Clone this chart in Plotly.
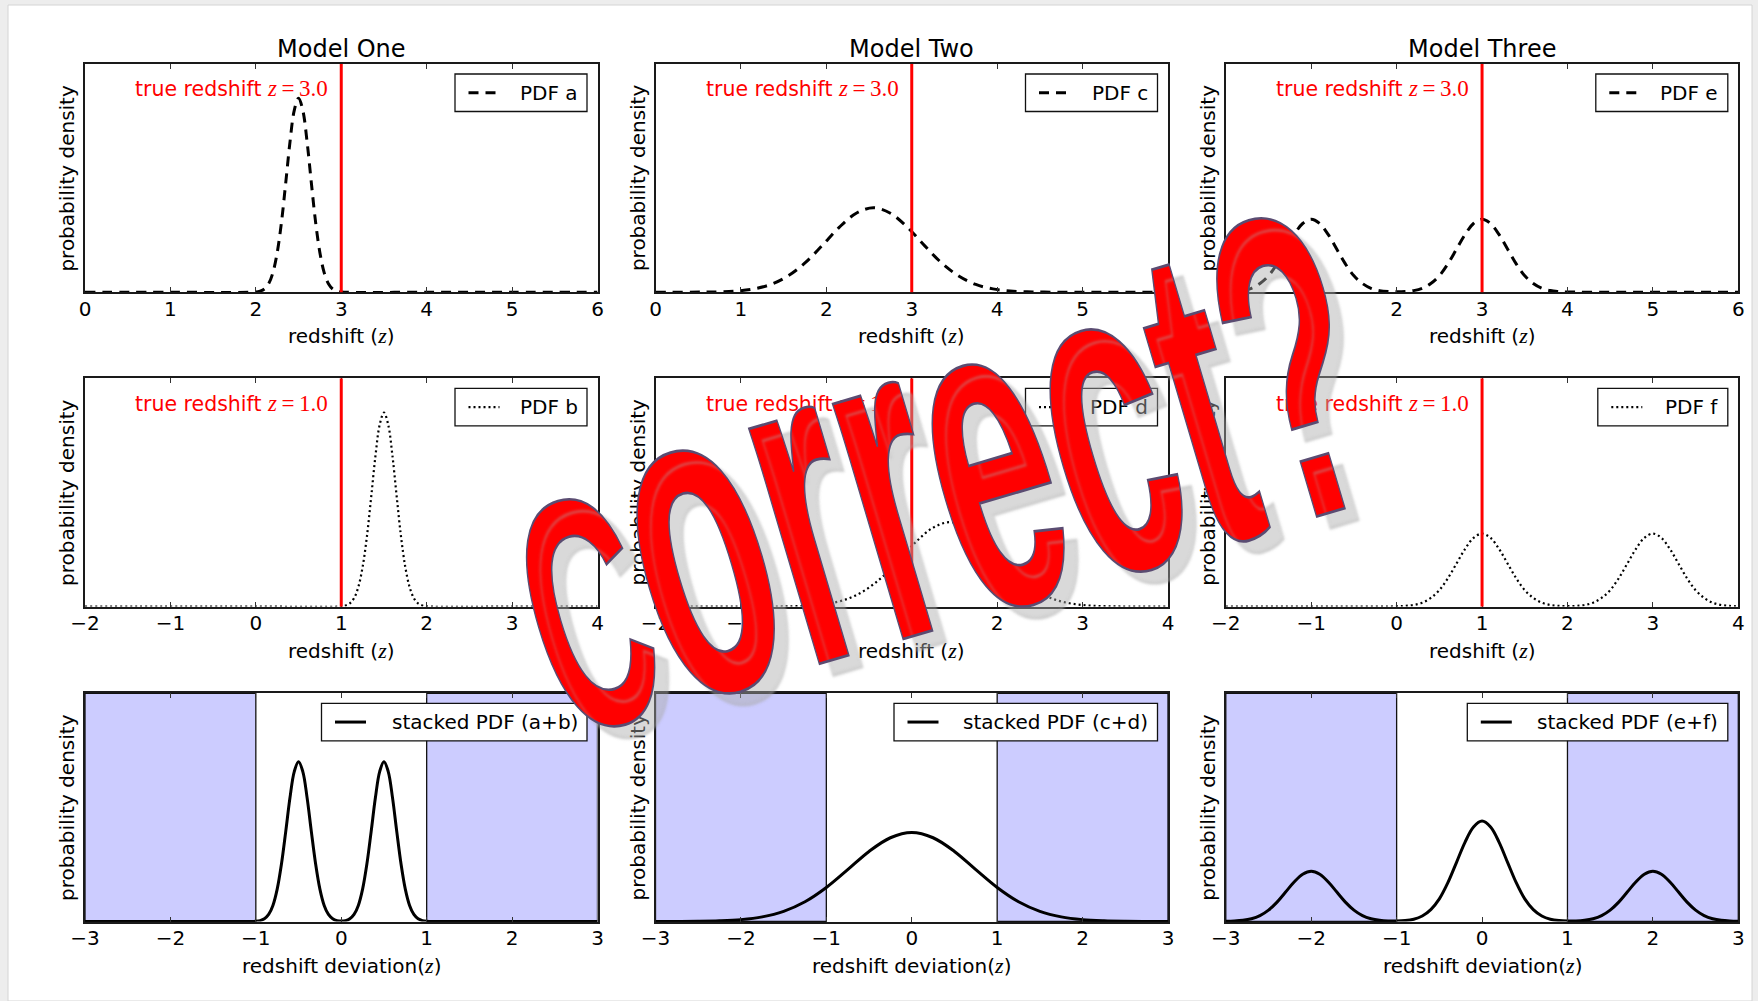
import plotly.graph_objects as go

W, H = 1758, 1001

# ------------------------------------------------------------------ data
model_titles = ["Model One", "Model Two", "Model Three"]
true_z_top = 3.0
true_z_mid = 1.0

top_ticks = [0, 1, 2, 3, 4, 5, 6]
mid_ticks = [-2, -1, 0, 1, 2, 3, 4]
bot_ticks = [-3, -2, -1, 0, 1, 2, 3]

pdf_a_x = [0.0, 1.0, 2.0, 2.05, 2.1, 2.15, 2.2, 2.25, 2.3, 2.35, 2.4, 2.45, 2.5,
           2.55, 2.6, 2.65, 2.7, 2.75, 2.8, 2.85, 2.9, 2.95, 3.0, 4.0, 5.0, 6.0]
pdf_a_y = [0, 0, 0.001, 0.005, 0.014, 0.037, 0.086, 0.173, 0.306, 0.479, 0.659, 0.797, 0.85,
           0.797, 0.659, 0.479, 0.306, 0.173, 0.086, 0.037, 0.014, 0.005, 0.001, 0, 0, 0]

pdf_b_x = [-2.0, 0.0, 1.0, 1.05, 1.1, 1.15, 1.2, 1.25, 1.3, 1.35, 1.4, 1.45, 1.5,
           1.55, 1.6, 1.65, 1.7, 1.75, 1.8, 1.85, 1.9, 1.95, 2.0, 3.0, 4.0]
pdf_b_y = [0, 0, 0.001, 0.005, 0.014, 0.037, 0.086, 0.173, 0.306, 0.479, 0.659, 0.797, 0.85,
           0.797, 0.659, 0.479, 0.306, 0.173, 0.086, 0.037, 0.014, 0.005, 0.001, 0, 0]

pdf_c_x = [0.0, 0.55, 0.75, 0.95, 1.15, 1.35, 1.55, 1.75, 1.95, 2.15, 2.35, 2.55,
           2.75, 2.95, 3.15, 3.35, 3.55, 3.75, 3.95, 4.15, 4.35, 4.55, 5.0, 6.0]
pdf_c_y = [0, 0.0005, 0.0017, 0.0054, 0.0145, 0.034, 0.071, 0.128, 0.204, 0.284, 0.346, 0.37,
           0.346, 0.284, 0.204, 0.128, 0.071, 0.034, 0.0145, 0.0054, 0.0017, 0.0005, 0, 0]

pdf_d_x = [-2.0, -0.55, -0.35, -0.15, 0.05, 0.25, 0.45, 0.65, 0.85, 1.05, 1.25, 1.45,
           1.65, 1.85, 2.05, 2.25, 2.45, 2.65, 2.85, 3.05, 3.25, 3.45, 4.0]
pdf_d_y = [0, 0.0005, 0.0017, 0.0054, 0.0145, 0.034, 0.071, 0.128, 0.204, 0.284, 0.346, 0.37,
           0.346, 0.284, 0.204, 0.128, 0.071, 0.034, 0.0145, 0.0054, 0.0017, 0.0005, 0]

pdf_e_x = [0.0, 0.1, 0.2, 0.3, 0.4, 0.5, 0.6, 0.7, 0.8, 0.9, 1.0, 1.1, 1.2, 1.3, 1.4,
           1.5, 1.6, 1.7, 1.8, 1.9, 2.0, 2.1, 2.2, 2.3, 2.4, 2.5, 2.6, 2.7, 2.8, 2.9,
           3.0, 3.1, 3.2, 3.3, 3.4, 3.5, 3.6, 3.7, 3.8, 3.9, 4.0, 4.5, 5.0, 6.0]
pdf_e_y = [0.001, 0.003, 0.007, 0.017, 0.038, 0.072, 0.124, 0.188, 0.252, 0.301, 0.32,
           0.301, 0.252, 0.188, 0.124, 0.072, 0.038, 0.017, 0.007, 0.003, 0.002,
           0.003, 0.007, 0.017, 0.038, 0.072, 0.124, 0.188, 0.252, 0.301, 0.32,
           0.301, 0.252, 0.188, 0.124, 0.072, 0.038, 0.017, 0.007, 0.003, 0.001, 0, 0, 0]

pdf_f_x = [-2.0, -1.0, -0.5, 0.0, 0.1, 0.2, 0.3, 0.4, 0.5, 0.6, 0.7, 0.8, 0.9, 1.0, 1.1,
           1.2, 1.3, 1.4, 1.5, 1.6, 1.7, 1.8, 1.9, 2.0, 2.1, 2.2, 2.3, 2.4, 2.5, 2.6,
           2.7, 2.8, 2.9, 3.0, 3.1, 3.2, 3.3, 3.4, 3.5, 3.6, 3.7, 3.8, 3.9, 4.0]
pdf_f_y = [0, 0, 0, 0.001, 0.003, 0.007, 0.017, 0.038, 0.072, 0.124, 0.188, 0.252, 0.301, 0.32,
           0.301, 0.252, 0.188, 0.124, 0.072, 0.038, 0.017, 0.007, 0.003, 0.002,
           0.003, 0.007, 0.017, 0.038, 0.072, 0.124, 0.188, 0.252, 0.301, 0.32,
           0.301, 0.252, 0.188, 0.124, 0.072, 0.038, 0.017, 0.007, 0.003, 0.001]

stack_ab_x = [-3.0, -2.0, -1.1, -1.0, -0.95, -0.9, -0.85, -0.8, -0.75, -0.7, -0.65, -0.6,
              -0.55, -0.5, -0.45, -0.4, -0.35, -0.3, -0.25, -0.2, -0.15, -0.1, -0.05, 0.0,
              0.05, 0.1, 0.15, 0.2, 0.25, 0.3, 0.35, 0.4, 0.45, 0.5, 0.55, 0.6, 0.65, 0.7,
              0.75, 0.8, 0.85, 0.9, 0.95, 1.0, 1.1, 2.0, 3.0]
stack_ab_y = [0, 0, 0, 0.001, 0.004, 0.012, 0.031, 0.0705, 0.142, 0.252, 0.394, 0.543,
              0.657, 0.70, 0.657, 0.543, 0.394, 0.252, 0.142, 0.0705, 0.031, 0.012, 0.004, 0.002,
              0.004, 0.012, 0.031, 0.0705, 0.142, 0.252, 0.394, 0.543, 0.657, 0.70, 0.657, 0.543,
              0.394, 0.252, 0.142, 0.0705, 0.031, 0.012, 0.004, 0.001, 0, 0, 0]

stack_cd_x = [-3.0, -2.75, -2.5, -2.25, -2.0, -1.75, -1.5, -1.25, -1.0, -0.75, -0.5, -0.25, 0.0,
              0.25, 0.5, 0.75, 1.0, 1.25, 1.5, 1.75, 2.0, 2.25, 2.5, 2.75, 3.0]
stack_cd_y = [0.0001, 0.0003, 0.0009, 0.003, 0.0082, 0.0203, 0.0445, 0.0864, 0.149, 0.227, 0.307, 0.367, 0.39,
              0.367, 0.307, 0.227, 0.149, 0.0864, 0.0445, 0.0203, 0.0082, 0.003, 0.0009, 0.0003, 0.0001]

stack_ef_x = [-3.0, -2.9, -2.8, -2.7, -2.6, -2.5, -2.4, -2.3, -2.2, -2.1, -2.0, -1.9, -1.8,
              -1.7, -1.6, -1.5, -1.4, -1.3, -1.2, -1.1, -1.0, -0.9, -0.8, -0.7, -0.6, -0.5,
              -0.4, -0.3, -0.2, -0.1, 0.0, 0.1, 0.2, 0.3, 0.4, 0.5, 0.6, 0.7, 0.8, 0.9, 1.0,
              1.1, 1.2, 1.3, 1.4, 1.5, 1.6, 1.7, 1.8, 1.9, 2.0, 2.1, 2.2, 2.3, 2.4, 2.5, 2.6,
              2.7, 2.8, 2.9, 3.0]
stack_ef_y = [0.001, 0.002, 0.005, 0.012, 0.026, 0.050, 0.085, 0.129, 0.173, 0.207, 0.22,
              0.207, 0.173, 0.129, 0.085, 0.050, 0.026, 0.012, 0.005, 0.002, 0.002,
              0.004, 0.010, 0.024, 0.052, 0.099, 0.170, 0.258, 0.347, 0.414, 0.44,
              0.414, 0.347, 0.258, 0.170, 0.099, 0.052, 0.024, 0.010, 0.004, 0.002,
              0.002, 0.005, 0.012, 0.026, 0.050, 0.085, 0.129, 0.173, 0.207, 0.22,
              0.207, 0.173, 0.129, 0.085, 0.050, 0.026, 0.012, 0.005, 0.002, 0.001]

legend_labels = ["PDF a", "PDF c", "PDF e",
                 "PDF b", "PDF d", "PDF f",
                 "stacked PDF (a+b)", "stacked PDF (c+d)", "stacked PDF (e+f)"]

span_left = [-3, -1]
span_right = [1, 3]

# ------------------------------------------------------------------ layout geometry (px)
col_left = [85.0, 655.5, 1225.8]
col_w = 512.5
row_top = [64.0, 378.4, 693.3]
row_h = 228.2

SERIF = "Liberation Serif"
ZI = '<span style="font-family:%s;font-size:22px"><i>z</i></span>' % SERIF


def px_x(px):
    return px / W


def px_y(py):
    return 1 - py / H


dash_style = {"dash": "10px,7px", "dot": "2px,3px", "solid": "solid"}
line_w = {"dash": 3, "dot": 2.2, "solid": 3}

series = [(pdf_a_x, pdf_a_y), (pdf_c_x, pdf_c_y), (pdf_e_x, pdf_e_y),
          (pdf_b_x, pdf_b_y), (pdf_d_x, pdf_d_y), (pdf_f_x, pdf_f_y),
          (stack_ab_x, stack_ab_y), (stack_cd_x, stack_cd_y), (stack_ef_x, stack_ef_y)]
row_kind = ["dash", "dot", "solid"]
row_ticks = [top_ticks, mid_ticks, bot_ticks]
row_true = [true_z_top, true_z_mid, None]
row_xtitle = ["redshift (%s)" % ZI, "redshift (%s)" % ZI, "redshift deviation(%s)" % ZI]
legend_box_w = [[132, 132, 132], [132, 132, 130], [265.5, 263.5, 260.5]]

fig = go.Figure()
layout = dict(template="none", width=W, height=H, autosize=False,
              margin=dict(l=0, r=0, t=0, b=0, pad=0, autoexpand=False),
              paper_bgcolor="#ededed", plot_bgcolor="white", showlegend=False,
              font=dict(family="DejaVu Sans", size=20, color="black"))
shapes = []
annotations = []

# white page area
shapes.append(dict(type="rect", xref="paper", yref="paper", x0=px_x(8), x1=px_x(1752),
                   y0=0, y1=px_y(5), fillcolor="white", line=dict(color="#d4d4d4", width=1),
                   layer="below"))

for r in range(3):
    for c in range(3):
        k = r * 3 + 1 + c
        sid = "" if k == 1 else str(k)
        L = col_left[c]
        R = L + col_w
        T = row_top[r]
        B = T + row_h
        ticks = row_ticks[r]
        xs, ys = series[k - 1]
        kind = row_kind[r]
        fig.add_trace(go.Scatter(x=xs, y=ys, mode="lines", line_shape="spline",
                                 line=dict(color="black", width=line_w[kind], dash=dash_style[kind]),
                                 xaxis="x" + sid, yaxis="y" + sid, hoverinfo="skip",
                                 name=legend_labels[k - 1]))
        layout["xaxis" + sid] = dict(domain=[px_x(L), px_x(R)], anchor="y" + sid,
                                     range=[ticks[0], ticks[-1]], tickvals=ticks,
                                     ticks="inside", ticklen=5, tickwidth=1, tickcolor="#333",
                                     mirror="allticks", showline=True, linecolor="#1a1a1a",
                                     linewidth=1.6, showgrid=False, zeroline=False,
                                     automargin=False,
                                     tickfont=dict(family="DejaVu Sans", size=20, color="black"),
                                     ticklabelstandoff=-2, fixedrange=True)
        layout["yaxis" + sid] = dict(domain=[px_y(B), px_y(T)], anchor="x" + sid, range=[0, 1],
                                     showticklabels=False, ticks="", showline=True, mirror=True,
                                     linecolor="#1a1a1a", linewidth=1.6, showgrid=False,
                                     automargin=False, zeroline=False, fixedrange=True)
        # axis titles
        annotations.append(dict(text=row_xtitle[r], xref="paper", yref="paper",
                                x=px_x((L + R) / 2), y=px_y(B + 43.5), xanchor="center",
                                yanchor="middle", showarrow=False,
                                font=dict(family="DejaVu Sans", size=20, color="black")))
        annotations.append(dict(text="probability density", xref="paper", yref="paper",
                                x=px_x(L - 17.5), y=px_y((T + B) / 2), xanchor="center",
                                yanchor="middle", textangle=-90, showarrow=False,
                                font=dict(family="DejaVu Sans", size=20, color="black")))
        # true redshift marker
        tz = row_true[r]
        if tz is not None:
            shapes.append(dict(type="line", xref="x" + sid, yref="y" + sid + " domain",
                               x0=tz, x1=tz, y0=0, y1=1, line=dict(color="#ff0000", width=3)))
            annotations.append(dict(
                text='true redshift <span style="font-family:%s;font-size:23px"><i>z</i>\u2009=\u2009%.1f</span>' % (SERIF, tz),
                xref="x" + sid, yref="paper", x=tz, xshift=-11, y=px_y(T + 25),
                xanchor="right", yanchor="middle", showarrow=False,
                font=dict(family="DejaVu Sans", size=20.5, color="#ff0000")))
        else:
            for a, b in (span_left, span_right):
                shapes.append(dict(type="rect", xref="x" + sid, yref="y" + sid + " domain",
                                   x0=a, x1=b, y0=0, y1=1, fillcolor="#ccccff",
                                   line=dict(color="#111", width=1.3), layer="below"))
        # legend box
        bw = legend_box_w[r][c]
        bx1 = R - 10.5
        bx0 = bx1 - bw
        by0 = T + 10
        by1 = by0 + 37.5
        byc = (by0 + by1) / 2
        shapes.append(dict(type="rect", xref="paper", yref="paper", x0=px_x(bx0), x1=px_x(bx1),
                           y0=px_y(by1), y1=px_y(by0), fillcolor="white",
                           line=dict(color="#111", width=1.3)))
        shapes.append(dict(type="line", xref="paper", yref="paper", x0=px_x(bx0 + 13.5),
                           x1=px_x(bx0 + 44.5), y0=px_y(byc), y1=px_y(byc),
                           line=dict(color="black", width=line_w[kind], dash=dash_style[kind])))
        annotations.append(dict(text=legend_labels[k - 1], xref="paper", yref="paper",
                                x=px_x(bx1 - 7.5), y=px_y(byc), xanchor="right",
                                yanchor="middle", showarrow=False,
                                font=dict(family="DejaVu Sans", size=20, color="black")))

# column titles
for c in range(3):
    annotations.append(dict(text=model_titles[c], xref="paper", yref="paper",
                            x=px_x(col_left[c] + col_w / 2), y=px_y(49), xanchor="center",
                            yanchor="middle", showarrow=False,
                            font=dict(family="DejaVu Sans", size=24, color="black")))

# overlaid WordArt-style question (drawn small, enlarged by CSS afterwards)
letters = ["C", "o", "r", "r", "e", "c", "t", "?"]
letter_px = [72.5, 100, 102, 102, 100, 100, 95.5, 95.5]
correct_html = "<b>" + "".join('<span style="font-size:%.1fpx">%s</span>' % (s, ch)
                               for ch, s in zip(letters, letter_px)) + "</b>"
annotations.append(dict(text=correct_html, xref="paper", yref="paper",
                        x=px_x(935), y=px_y(462), xanchor="center", yanchor="middle",
                        showarrow=False, textangle=-16.5,
                        font=dict(family="Liberation Sans", size=100, color="#ff0000")))

layout["shapes"] = shapes
layout["annotations"] = annotations
fig.update_layout(**layout)

post_js = """
var els = document.querySelectorAll('text.annotation-text');
for (var i = 0; i < els.length; i++) {
  var t = els[i];
  if (t.textContent.indexOf('Correct') === 0) {
    t.style.transformBox = 'fill-box';
    t.style.transformOrigin = '50% 50%';
    t.style.transform = 'scale(2.2, 4.55)';
    t.style.stroke = '#5a4c72';
    t.style.strokeWidth = '0.6px';
    t.style.textShadow = '16px 12px 3px rgba(170,170,170,0.45)';
  }
}
"""

fig.write_html("out.html", post_script=post_js, config={"displayModeBar": False})
